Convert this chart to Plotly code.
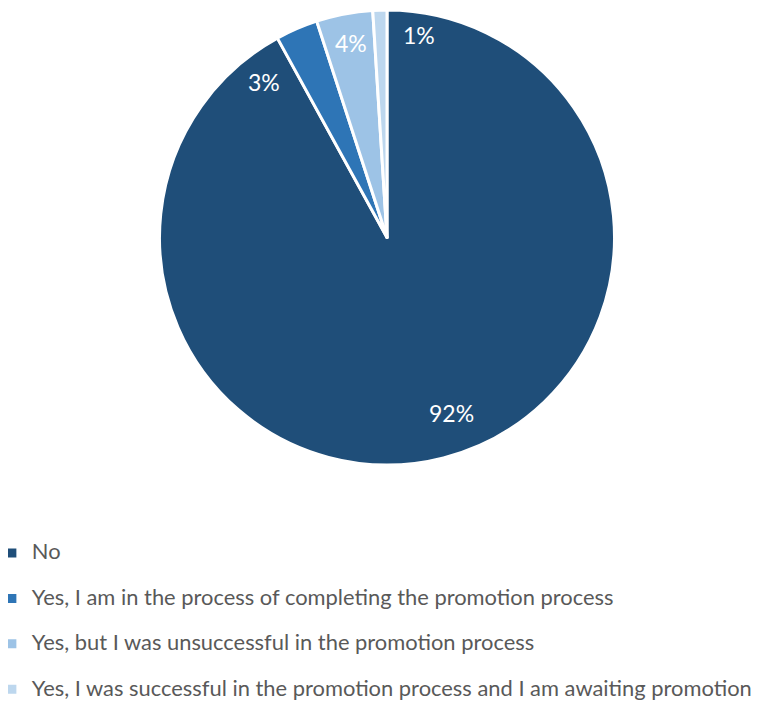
import math
import plotly.graph_objects as go

labels = [
    "No",
    "Yes, I am in the process of completing the promotion process",
    "Yes, but I was unsuccessful in the promotion process",
    "Yes, I was successful in the promotion process and I am awaiting promotion",
]
values = [92, 3, 4, 1]
colors = ["#1F4E79", "#2E75B6", "#9DC3E6", "#BDD7EE"]

W, H = 768, 702
cx, cy, r = 379, 229.5, 227.5

# label placement (Excel best-fit style): angular offset from slice middle (deg), radius fraction
label_offset_deg = [-5.7, -15.0, 0.2, 10.9]
label_radius_frac = [0.82, 0.87, 0.87, 0.90]

legend_labels = [f"<span style='font-size:21.9px'>{l}</span><br> " for l in labels]

fig = go.Figure(go.Pie(
    labels=legend_labels,
    values=values,
    sort=False,
    direction="clockwise",
    rotation=0,
    marker=dict(colors=colors, line=dict(color="white", width=3)),
    textinfo="none",
    domain=dict(x=[(cx - r) / W, (cx + r) / W], y=[1 - (cy + r) / H, 1 - (cy - r) / H]),
    hoverinfo="label+percent",
))

total = sum(values)
cum = 0
annotations = []
for v, off, rf in zip(values, label_offset_deg, label_radius_frac):
    mid = (cum + v / 2) / total * 360
    cum += v
    th = math.radians(mid + off)
    px = cx + rf * r * math.sin(th)
    py = cy - rf * r * math.cos(th)
    annotations.append(dict(
        x=px / W, y=1 - py / H, xref="paper", yref="paper",
        text=f"{round(v / total * 100)}%", showarrow=False,
        font=dict(family="Lato", size=23, color="white"),
        xanchor="center", yanchor="middle",
    ))

fig.update_layout(
    width=W, height=H,
    margin=dict(l=0, r=0, t=0, b=0, autoexpand=False),
    paper_bgcolor="white",
    plot_bgcolor="white",
    font=dict(family="Lato", color="#595959"),
    annotations=annotations,
    legend=dict(
        orientation="v",
        x=-0.021, xanchor="left",
        y=1 - 528 / H, yanchor="top",
        valign="top",
        font=dict(size=16.3, family="Lato", color="#595959"),
        itemclick=False,
    ),
)

fig.write_html("out.html")
